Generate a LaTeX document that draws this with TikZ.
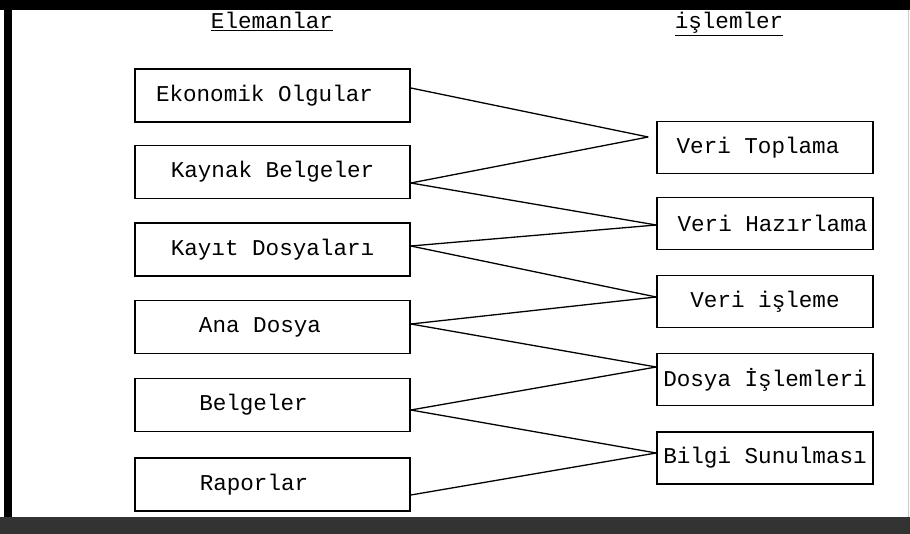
\documentclass[tikz,border=0pt]{standalone}
\usepackage{fontspec}
\setmainfont{Liberation Mono}
\begin{document}
\begin{tikzpicture}[x=1pt,y=-1pt,
  box/.style={draw, line width=1.6pt, minimum width=275pt, minimum height=53pt, inner sep=0pt, font=\fontsize{22.6}{25}\selectfont},
  rbox/.style={box, minimum width=216pt, minimum height=52pt},
  head/.style={font=\fontsize{22.6}{25}\selectfont, inner sep=0pt, anchor=base},
  link/.style={line width=1.3pt}]
\useasboundingbox (0,0) rectangle (910,534);
% frame
\fill[black] (0,0) rectangle (910,10);
\fill[black] (4,0) rectangle (12,517);
\fill[black!80] (0,517) rectangle (910,534);
\draw[black!20, line width=1pt] (908,10) -- (908,517);
% headers
\node[head] (h1) at (272,29) {\underline{Elemanlar}};
\node[head] (h2) at (729,29) {\underline{işlemler}};
% left boxes
\node[box] (e1) at (272.5,95.5) {\hspace*{-16pt}Ekonomik Olgular};
\node[box] (e2) at (272.5,172) {Kaynak Belgeler};
\node[box] (e3) at (272.5,249.5) {Kayıt Dosyaları};
\node[box] (e4) at (272.5,327) {\hspace*{-25pt}Ana Dosya};
\node[box] (e5) at (272.5,405) {\hspace*{-38pt}Belgeler};
\node[box] (e6) at (272.5,484.5) {\hspace*{-37pt}Raporlar};
% right boxes
\node[rbox] (r1) at (765,147.5) {\hspace*{-14pt}Veri Toplama};
\node[rbox] (r2) at (765,223.5) {Veri Hazırlama\hspace*{-15pt}};
\node[rbox] (r3) at (765,301.5) {Veri işleme};
\node[rbox] (r4) at (765,379.5) {Dosya İşlemleri};
\node[rbox] (r5) at (765,458) {Bilgi Sunulması};
% connectors
\coordinate (c1) at ([xshift=-8pt,yshift=10.5pt]r1.west);
\draw[link] ([yshift=7.5pt]e1.east) -- (c1);
\draw[link] ([yshift=-11pt]e2.east) -- (c1);
\draw[link] ([yshift=-11pt]e2.east) -- ([yshift=-1.5pt]r2.west);
\draw[link] ([yshift=3.5pt]e3.east) -- ([yshift=-1.5pt]r2.west);
\draw[link] ([yshift=3.5pt]e3.east) -- ([yshift=4.5pt]r3.west);
\draw[link] ([yshift=3pt]e4.east) -- ([yshift=4.5pt]r3.west);
\draw[link] ([yshift=3pt]e4.east) -- ([yshift=12.5pt]r4.west);
\draw[link] ([yshift=-5pt]e5.east) -- ([yshift=12.5pt]r4.west);
\draw[link] ([yshift=-5pt]e5.east) -- ([yshift=5pt]r5.west);
\draw[link] ([yshift=-10.5pt]e6.east) -- ([yshift=5pt]r5.west);
\end{tikzpicture}
\end{document}
